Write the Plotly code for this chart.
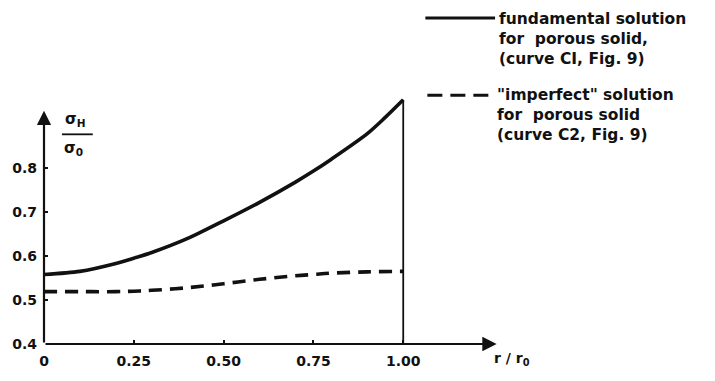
import plotly.graph_objects as go

# r / r0 positions along the radius
r_solid = [0.0, 0.1, 0.2, 0.25, 0.3, 0.4, 0.5, 0.6, 0.7, 0.75, 0.8, 0.9, 0.95, 1.0]
# fundamental solution for porous solid (curve C1)
sigma_fund = [0.558, 0.565, 0.583, 0.595, 0.608, 0.640, 0.680, 0.722, 0.768, 0.793, 0.820, 0.878, 0.915, 0.955]

r_dash = [0.0, 0.1, 0.2, 0.25, 0.3, 0.4, 0.5, 0.6, 0.7, 0.75, 0.8, 0.9, 1.0]
# "imperfect" solution for porous solid (curve C2)
sigma_imp = [0.519, 0.519, 0.519, 0.520, 0.522, 0.528, 0.537, 0.547, 0.555, 0.558, 0.561, 0.564, 0.565]

x_ticks = [0.0, 0.25, 0.5, 0.75, 1.0]
x_ticklabels = ["0", "0.25", "0.50", "0.75", "1.00"]
y_ticks = [0.4, 0.5, 0.6, 0.7, 0.8]
y_ticklabels = ["0.4", "0.5", "0.6", "0.7", "0.8"]

legend_fund = ["fundamental solution", "for  porous solid,", "(curve CI, Fig. 9)"]
legend_imp = ["\"imperfect\" solution", "for  porous solid", "(curve C2, Fig. 9)"]

INK = "#111111"
FONT = "DejaVu Sans"

W, H = 715, 381
ML, MR, MT, MB = 42, 204, 80, 24
XR = [0.0, 1.3]
YR = [0.4, 1.0]
PW, PH = W - ML - MR, H - MT - MB


def px(xp):
    return (xp - ML) / PW


def py(yp):
    return (H - MB - yp) / PH


fig = go.Figure()
fig.add_trace(go.Scatter(x=r_solid, y=sigma_fund, mode="lines",
                         line=dict(color=INK, width=3.6, shape="spline", smoothing=0.8),
                         showlegend=False, hoverinfo="skip"))
fig.add_trace(go.Scatter(x=r_dash, y=sigma_imp, mode="lines",
                         line=dict(color=INK, width=3.6, shape="spline", dash="13px,8px"),
                         showlegend=False, hoverinfo="skip"))

shapes = []
# vertical boundary at r = r0, up to the end of curve C1
shapes.append(dict(type="line", xref="x", yref="y", x0=r_solid[-1], x1=r_solid[-1],
                   y0=YR[0], y1=sigma_fund[-1], line=dict(color=INK, width=1.8)))
# fraction bar for the y-axis label
shapes.append(dict(type="line", xref="paper", yref="paper", x0=px(60), x1=px(91),
                   y0=py(137), y1=py(137), line=dict(color=INK, width=1.8)))
# legend samples
shapes.append(dict(type="line", xref="paper", yref="paper", x0=px(425), x1=px(495),
                   y0=py(15), y1=py(15), line=dict(color=INK, width=3)))
shapes.append(dict(type="line", xref="paper", yref="paper", x0=px(427), x1=px(495),
                   y0=py(96), y1=py(96), line=dict(color=INK, width=3, dash="15px,8px")))

annotations = []
# axes drawn as arrows
annotations.append(dict(x=1.26, y=YR[0], ax=0, ay=YR[0], xref="x", yref="y",
                        axref="x", ayref="y", showarrow=True, arrowhead=2,
                        arrowsize=1.3, arrowwidth=2.2, arrowcolor=INK, text=""))
annotations.append(dict(x=0, y=0.93, ax=0, ay=YR[0], xref="x", yref="y",
                        axref="x", ayref="y", showarrow=True, arrowhead=2,
                        arrowsize=1.3, arrowwidth=2.2, arrowcolor=INK, text=""))
# axis titles
annotations.append(dict(x=px(492), y=py(361), xref="paper", yref="paper",
                        xanchor="left", yanchor="top",
                        text="r / r<sub>0</sub>", showarrow=False,
                        font=dict(family=FONT, size=14, color=INK, weight="bold")))
annotations.append(dict(x=px(61), y=py(134), xref="paper", yref="paper",
                        xanchor="left", yanchor="bottom",
                        text="σ<sub>H</sub>", showarrow=False,
                        font=dict(family=FONT, size=15, color=INK, weight="bold")))
annotations.append(dict(x=px(60), y=py(140), xref="paper", yref="paper",
                        xanchor="left", yanchor="top",
                        text="σ<sub>0</sub>", showarrow=False,
                        font=dict(family=FONT, size=15, color=INK, weight="bold")))
# legend text blocks
legend_font = dict(family=FONT, size=15.5, color=INK, weight="bold")
annotations.append(dict(x=px(497), y=py(4), xref="paper", yref="paper",
                        text="<br>".join(legend_fund), showarrow=False,
                        xanchor="left", yanchor="top", align="left", font=legend_font))
annotations.append(dict(x=px(495), y=py(84), xref="paper", yref="paper",
                        text="<br>".join(legend_imp), showarrow=False,
                        xanchor="left", yanchor="top", align="left", font=legend_font))

axis_font = dict(family=FONT, size=14, color=INK, weight="bold")
fig.update_layout(
    width=W, height=H,
    margin=dict(l=ML, r=MR, t=MT, b=MB, pad=0),
    paper_bgcolor="white", plot_bgcolor="white",
    xaxis=dict(range=XR, tickvals=x_ticks, ticktext=x_ticklabels, ticks="inside",
               ticklen=4, tickwidth=1.5, tickcolor=INK, showgrid=False, zeroline=False,
               showline=False, tickfont=axis_font, ticklabelstandoff=7),
    yaxis=dict(range=YR, tickvals=y_ticks, ticktext=y_ticklabels, ticks="inside",
               ticklen=4, tickwidth=1.5, tickcolor=INK, showgrid=False, zeroline=False,
               showline=False, tickfont=axis_font, ticklabelstandoff=6),
    shapes=shapes, annotations=annotations, showlegend=False,
)

fig.write_html("out.html")
